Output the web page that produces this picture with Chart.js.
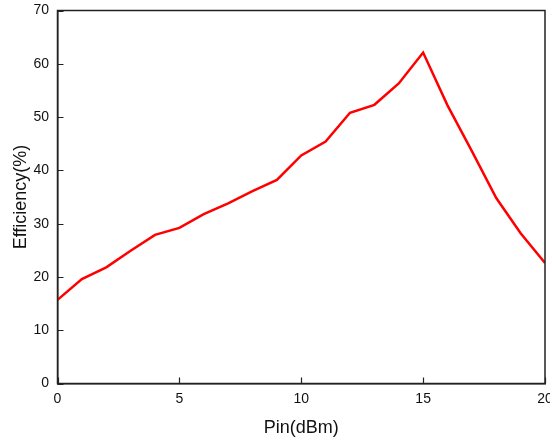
<!DOCTYPE html>
<html>
<head>
<meta charset="utf-8">
<script src="https://cdn.jsdelivr.net/npm/chart.js@4"></script>
<style>
  html, body { margin: 0; padding: 0; overflow: hidden; background: #fff; }
  #wrap { width: 550px; height: 440px; }
</style>
</head>
<body>
<div id="wrap"><canvas id="effChart" width="550" height="440"></canvas></div>
<script>
const pin = [0, 1, 2, 3, 4, 5, 6, 7, 8, 9, 10, 11, 12, 13, 14, 15, 16, 17, 18, 19, 20];
const efficiency = [15.7, 19.6, 21.8, 24.9, 27.9, 29.2, 31.8, 33.8, 36.1, 38.2, 42.8, 45.4, 50.8, 52.3, 56.3, 62.1, 52.2, 43.6, 34.8, 28.2, 22.6];
const xTicks = [0, 5, 10, 15, 20];
const yTicks = [0, 10, 20, 30, 40, 50, 60, 70];

const axisColor = '#222';
const fontFamily = 'Arial, "Liberation Sans", sans-serif';

// box round the plot area, with inward tick marks on the bottom and left sides
const frame = {
    id: 'frame',
    afterDraw(chart) {
        const a = chart.chartArea;
        const c = chart.ctx;
        const xs = chart.scales.x, ys = chart.scales.y;
        c.save();
        c.strokeStyle = axisColor;
        c.lineWidth = 1.5;
        c.strokeRect(a.left, a.top, a.right - a.left, a.bottom - a.top);
        c.lineWidth = 1.2;
        c.beginPath();
        xs.ticks.forEach(t => {
            const px = Math.round(xs.getPixelForValue(t.value)) + 0.5;
            c.moveTo(px, a.bottom);
            c.lineTo(px, a.bottom - 6);
        });
        ys.ticks.forEach(t => {
            const py = Math.round(ys.getPixelForValue(t.value)) + 0.5;
            c.moveTo(a.left, py);
            c.lineTo(a.left + 6, py);
        });
        c.stroke();
        c.restore();
    }
};

document.addEventListener('DOMContentLoaded', function () {
    const ctx = document.getElementById('effChart').getContext('2d');
    new Chart(ctx, {
        type: 'line',
        data: {
            datasets: [{
                label: 'Efficiency',
                data: pin.map((p, i) => ({ x: p, y: efficiency[i] })),
                borderColor: '#ff0000',
                borderWidth: 2.5,
                pointRadius: 0,
                tension: 0,
                fill: false
            }]
        },
        options: {
            responsive: false,
            animation: false,
            layout: { padding: 0 },
            plugins: {
                legend: { display: false },
                tooltip: { enabled: false }
            },
            scales: {
                x: {
                    type: 'linear',
                    min: 0,
                    max: 20,
                    afterBuildTicks: (s) => { s.ticks = xTicks.map(v => ({ value: v })); },
                    afterFit: (s) => { s.height = 56.5; s.paddingRight = 5; },
                    grid: { display: false, drawTicks: false },
                    border: { color: axisColor, width: 1.5 },
                    ticks: { color: '#111', padding: 7, maxRotation: 0, font: { family: fontFamily, size: 14 } },
                    title: { display: true, text: 'Pin(dBm)', color: '#111', padding: { top: 0, bottom: 1.5 }, font: { family: fontFamily, size: 18 } }
                },
                y: {
                    type: 'linear',
                    min: 0,
                    max: 70,
                    afterBuildTicks: (s) => { s.ticks = yTicks.map(v => ({ value: v })); },
                    afterFit: (s) => { s.width = 57.5; s.paddingTop = 10.5; },
                    grid: { display: false, drawTicks: false },
                    border: { color: axisColor, width: 1.5 },
                    ticks: { color: '#111', padding: 8.5, font: { family: fontFamily, size: 14 } },
                    title: { display: true, text: 'Efficiency(%)', color: '#111', padding: { top: 10, bottom: 0 }, font: { family: fontFamily, size: 18 } }
                }
            }
        },
        plugins: [frame]
    });
});
</script>
</body>
</html>
